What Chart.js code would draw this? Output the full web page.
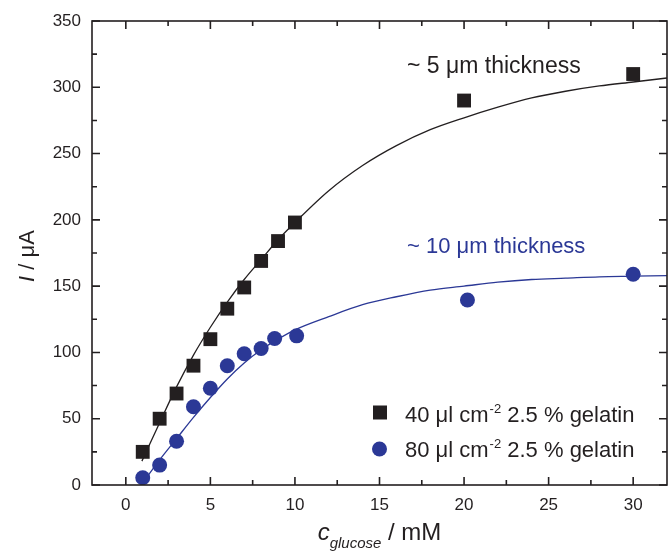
<!DOCTYPE html>
<html>
<head>
<meta charset="utf-8">
<script src="https://cdn.jsdelivr.net/npm/chart.js@4.4.1/dist/chart.umd.min.js"></script>
<style>
  html, body { margin: 0; padding: 0; background: #fff; }
  #wrap { width: 668px; height: 555px; }
</style>
</head>
<body>
<div id="wrap"><canvas id="chart"></canvas></div>
<script>
// measured points
const conc5um = [1, 2, 3, 4, 5, 6, 7, 8, 9, 10, 20, 30];
const curr5um = [25, 50, 69, 90, 110, 133, 149, 169, 184, 198, 290, 310];
const conc10um = [1, 2, 3, 4, 5, 6, 7, 8, 8.8, 10.1, 20.2, 30];
const curr10um = [5.5, 15, 33, 59, 73, 90, 99, 103, 110.5, 112.5, 139.5, 159];

// fitted curves
const fitX5 = [0.95, 2, 3, 4, 5, 6, 7, 8, 9, 10, 12, 14, 16, 18, 20, 22, 24, 26, 28, 30, 32];
const fitY5 = [18, 47, 74, 98, 119, 138, 155, 170, 185, 198, 222, 241, 256, 268, 277, 285, 292, 297, 301, 304, 307];
const fitX10 = [0.9, 2, 3, 4, 5, 6, 7, 8, 9, 10, 12, 14, 16, 18, 20, 22, 24, 26, 28, 30, 32];
const fitY10 = [0, 19, 35, 51, 66, 80, 92, 102, 110, 117, 127, 136, 142, 147, 150, 153, 155, 156, 157, 157.5, 158];

const xTicks = [0, 5, 10, 15, 20, 25, 30];
const xMinor = [2.5, 7.5, 12.5, 17.5, 22.5, 27.5];
const yTicks = [0, 50, 100, 150, 200, 250, 300, 350];
const yMinor = [25, 75, 125, 175, 225, 275, 325];

const INK = '#231f20';
const BLUE = '#2b3896';
const FONT = '"Liberation Sans", Arial, Helvetica, sans-serif';

const pts = (xs, ys) => xs.map((x, i) => ({ x: x, y: ys[i] }));

const decor = {
  id: 'decor',
  afterDraw(chart) {
    const { ctx, chartArea: a, scales } = chart;
    const xs = scales.x, ys = scales.y;
    ctx.save();
    ctx.strokeStyle = INK;
    ctx.lineWidth = 1.6;
    ctx.strokeRect(a.left, a.top, a.right - a.left, a.bottom - a.top);
    ctx.beginPath();
    const major = 8, minor = 5;
    xTicks.forEach(v => {
      const p = xs.getPixelForValue(v);
      ctx.moveTo(p, a.bottom); ctx.lineTo(p, a.bottom - major);
      ctx.moveTo(p, a.top); ctx.lineTo(p, a.top + major);
    });
    xMinor.forEach(v => {
      const p = xs.getPixelForValue(v);
      ctx.moveTo(p, a.bottom); ctx.lineTo(p, a.bottom - minor);
      ctx.moveTo(p, a.top); ctx.lineTo(p, a.top + minor);
    });
    yTicks.forEach(v => {
      const p = ys.getPixelForValue(v);
      ctx.moveTo(a.left, p); ctx.lineTo(a.left + major, p);
      ctx.moveTo(a.right, p); ctx.lineTo(a.right - major, p);
    });
    yMinor.forEach(v => {
      const p = ys.getPixelForValue(v);
      ctx.moveTo(a.left, p); ctx.lineTo(a.left + minor, p);
      ctx.moveTo(a.right, p); ctx.lineTo(a.right - minor, p);
    });
    ctx.stroke();

    // annotations
    ctx.textBaseline = 'alphabetic';
    ctx.textAlign = 'left';
    ctx.font = '23px ' + FONT;
    ctx.fillStyle = INK;
    ctx.fillText('~ 5 \u03bcm thickness', 407, 73);
    ctx.font = '22px ' + FONT;
    ctx.fillStyle = BLUE;
    ctx.fillText('~ 10 \u03bcm thickness', 407, 253);

    // legend
    ctx.fillStyle = INK;
    ctx.fillRect(373, 405.5, 14, 14);
    ctx.fillStyle = BLUE;
    ctx.beginPath(); ctx.arc(379.5, 449, 7.5, 0, Math.PI * 2); ctx.fill();
    ctx.fillStyle = INK;
    const legendRow = (label, y) => {
      let x = 405;
      ctx.font = '22px ' + FONT;
      const head = label + ' \u03bcl cm';
      ctx.fillText(head, x, y);
      x += ctx.measureText(head).width + 1;
      ctx.font = '13px ' + FONT;
      ctx.fillText('-2', x, y - 9);
      x += ctx.measureText('-2').width;
      ctx.font = '22px ' + FONT;
      ctx.fillText(' 2.5 % gelatin', x, y);
    };
    legendRow('40', 421.5);
    legendRow('80', 456.5);

    // axis titles
    ctx.fillStyle = INK;
    ctx.save();
    ctx.translate(34, 256);
    ctx.rotate(-Math.PI / 2);
    ctx.font = 'italic 22px ' + FONT;
    const w1 = ctx.measureText('I').width;
    ctx.font = '22px ' + FONT;
    const w2 = ctx.measureText(' / \u03bcA').width;
    const sx = -(w1 + w2) / 2;
    ctx.font = 'italic 22px ' + FONT;
    ctx.fillText('I', sx, 0);
    ctx.font = '22px ' + FONT;
    ctx.fillText(' / \u03bcA', sx + w1, 0);
    ctx.restore();

    ctx.font = 'italic 24px ' + FONT;
    const c = ctx.measureText('c').width;
    ctx.font = 'italic 15px ' + FONT;
    const g = ctx.measureText('glucose').width;
    ctx.font = '24px ' + FONT;
    const m = ctx.measureText(' / mM').width;
    const tx = (a.left + a.right) / 2 - (c + g + m) / 2;
    ctx.font = 'italic 24px ' + FONT;
    ctx.fillText('c', tx, 540);
    ctx.font = 'italic 15px ' + FONT;
    ctx.fillText('glucose', tx + c, 548);
    ctx.font = '24px ' + FONT;
    ctx.fillText(' / mM', tx + c + g, 540);
    ctx.restore();
  }
};

new Chart(document.getElementById('chart'), {
  type: 'scatter',
  data: {
    datasets: [
      {
        label: '40 \u03bcl cm-2 2.5 % gelatin',
        data: pts(conc5um, curr5um),
        pointStyle: 'rect',
        pointRadius: 9.8,
        backgroundColor: INK,
        borderWidth: 0,
        order: 1,
      },
      {
        label: '80 \u03bcl cm-2 2.5 % gelatin',
        data: pts(conc10um, curr10um),
        pointStyle: 'circle',
        pointRadius: 7.5,
        backgroundColor: BLUE,
        borderWidth: 0,
        order: 1,
      },
      {
        label: 'fit 5',
        data: pts(fitX5, fitY5),
        showLine: true,
        pointRadius: 0,
        borderColor: INK,
        borderWidth: 1.3,
        cubicInterpolationMode: 'monotone',
        order: 2,
      },
      {
        label: 'fit 10',
        data: pts(fitX10, fitY10),
        showLine: true,
        pointRadius: 0,
        borderColor: BLUE,
        borderWidth: 1.3,
        cubicInterpolationMode: 'monotone',
        order: 2,
      },
    ]
  },
  options: {
    responsive: true, maintainAspectRatio: false,
    animation: false,
    layout: { autoPadding: false, padding: { top: 21, right: 1, left: 0, bottom: 0 } },
    plugins: { legend: { display: false }, tooltip: { enabled: false } },
    scales: {
      x: {
        type: 'linear', min: -2, max: 32,
        grid: { display: false, drawTicks: false },
        border: { display: false },
        afterBuildTicks: (s) => { s.ticks = xTicks.map(v => ({ value: v })); },
        afterFit: (s) => { s.height = 70; s.paddingLeft = 0; s.paddingRight = 0; },
        ticks: { padding: 10, color: INK, font: { family: FONT, size: 17 }, maxRotation: 0 },
      },
      y: {
        type: 'linear', min: 0, max: 350,
        grid: { display: false, drawTicks: false },
        border: { display: false },
        afterBuildTicks: (s) => { s.ticks = yTicks.map(v => ({ value: v })); },
        afterFit: (s) => { s.width = 92; s.paddingTop = 0; s.paddingBottom = 0; },
        ticks: { padding: 11, color: INK, font: { family: FONT, size: 17 } },
      },
    }
  },
  plugins: [decor]
});
</script>
</body>
</html>
